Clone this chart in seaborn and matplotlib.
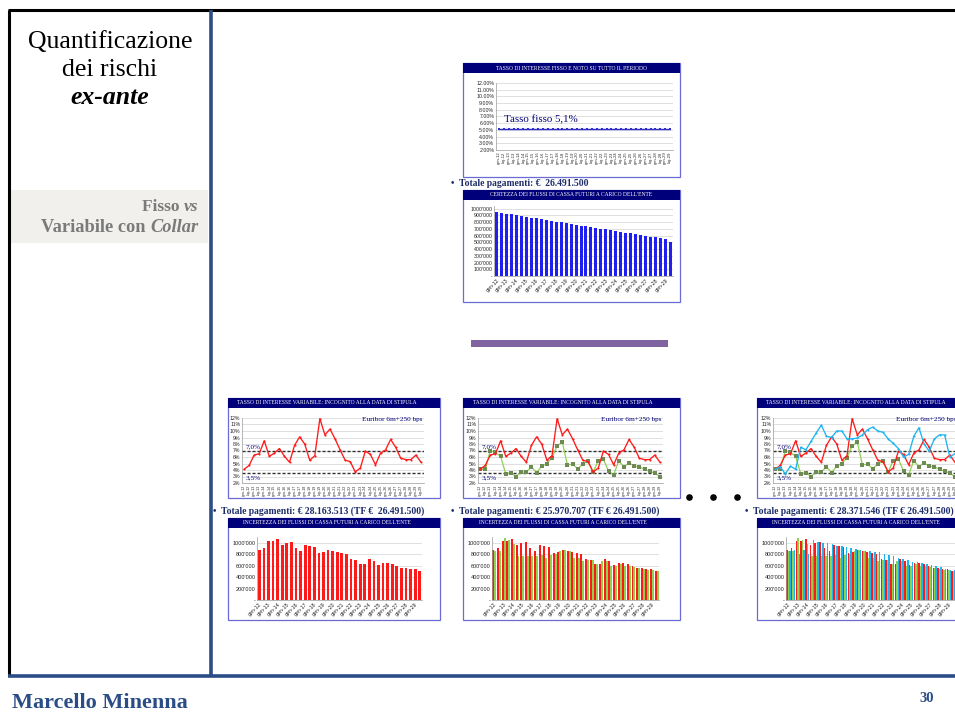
import numpy as np
import pandas as pd
import matplotlib
matplotlib.use("Agg")
import matplotlib.pyplot as plt
from matplotlib.patches import Rectangle
from matplotlib.ticker import FuncFormatter, MultipleLocator
import seaborn as sns

sns.set_theme(style="white")
plt.rcParams["font.family"] = ["Liberation Serif", "DejaVu Serif"]

# ---------------------------------------------------------------- data
periods = ["gen-12", "lug-12", "gen-13", "lug-13", "gen-14", "lug-14",
           "gen-15", "lug-15", "gen-16", "lug-16", "gen-17", "lug-17",
           "gen-18", "lug-18", "gen-19", "lug-19", "gen-20", "lug-20",
           "gen-21", "lug-21", "gen-22", "lug-22", "gen-23", "lug-23",
           "gen-24", "lug-24", "gen-25", "lug-25", "gen-26", "lug-26",
           "gen-27", "lug-27", "gen-28", "lug-28", "gen-29", "lug-29"]
year_labels = ["gen-12", "gen-13", "gen-14", "gen-15", "gen-16", "gen-17",
               "gen-18", "gen-19", "gen-20", "gen-21", "gen-22", "gen-23",
               "gen-24", "gen-25", "gen-26", "gen-27", "gen-28", "gen-29"]

# interest rates (%)
fixed_rate = [5.1, 5.1, 5.1, 5.1, 5.1, 5.1, 5.1, 5.1, 5.1, 5.1, 5.1, 5.1,
              5.1, 5.1, 5.1, 5.1, 5.1, 5.1, 5.1, 5.1, 5.1, 5.1, 5.1, 5.1,
              5.1, 5.1, 5.1, 5.1, 5.1, 5.1, 5.1, 5.1, 5.1, 5.1, 5.1, 5.1]
euribor_rate = [4.1, 4.7, 6.3, 6.5, 8.5, 6.1, 6.6, 7.3, 6.1, 5.2, 7.8, 9.1,
                8.0, 5.5, 6.2, 11.9, 9.4, 10.3, 8.8, 7.1, 5.5, 5.3, 3.7, 4.3,
                6.9, 6.4, 4.8, 6.6, 7.1, 8.7, 7.5, 5.8, 5.6, 5.6, 6.3, 5.2]
collar_rate = [4.1, 4.1, 7.0, 6.7, 6.1, 3.4, 3.6, 3.0, 3.7, 3.7, 4.5, 3.6,
               4.6, 5.0, 5.9, 7.7, 8.3, 4.8, 4.9, 4.2, 4.9, 5.4, 3.7, 5.4,
               5.7, 3.8, 3.3, 5.4, 4.5, 5.1, 4.6, 4.5, 4.1, 3.8, 3.5, 3.0]
stress_rate = [4.1, 4.5, 3.4, 4.6, 4.1, 7.5, 7.1, 8.4, 9.7, 10.9, 9.2, 9.0,
               10.0, 10.0, 8.8, 8.8, 8.9, 9.4, 10.2, 10.6, 10.0, 9.8, 8.8, 8.1,
               7.3, 6.0, 6.4, 9.2, 10.5, 8.0, 6.9, 8.8, 9.4, 9.4, 6.0, 6.5]
collar_cap = 7.0
collar_floor = 3.5

# semiannual payments (EUR)
fixed_payments = [948000, 937000, 926000, 914000, 903000, 891000, 879000, 868000,
                  856000, 844000, 833000, 821000, 809000, 797000, 786000, 774000,
                  762000, 750000, 739000, 727000, 715000, 703000, 692000, 680000,
                  668000, 656000, 645000, 633000, 621000, 609000, 597000, 586000,
                  574000, 562000, 550000, 506000]
euribor_payments = [870000, 912000, 1029000, 1035000, 1059000, 965000, 988000, 1006000,
                    912000, 847000, 953000, 935000, 923000, 812000, 841000, 870000,
                    853000, 835000, 812000, 800000, 718000, 694000, 629000, 635000,
                    712000, 676000, 618000, 653000, 641000, 624000, 600000, 565000,
                    553000, 541000, 535000, 512000]
collar_payments = [860000, 850000, 1080000, 1050000, 980000, 770000, 770000, 760000,
                   760000, 760000, 790000, 730000, 780000, 810000, 850000, 870000,
                   850000, 730000, 730000, 680000, 700000, 690000, 630000, 680000,
                   680000, 600000, 590000, 630000, 600000, 600000, 570000, 560000,
                   540000, 525000, 520000, 505000]
stress_payments = [860000, 870000, 800000, 880000, 810000, 1040000, 1010000, 1000000,
                   990000, 970000, 950000, 940000, 930000, 910000, 890000, 880000,
                   860000, 850000, 840000, 830000, 810000, 790000, 760000, 740000,
                   720000, 690000, 660000, 660000, 650000, 630000, 610000, 590000,
                   570000, 550000, 530000, 520000]

totals = ["Totale pagamenti: € 28.163.513 (TF €  26.491.500)",
          "Totale pagamenti: € 25.970.707 (TF € 26.491.500)",
          "Totale pagamenti: € 28.371.546 (TF € 26.491.500)"]

# ---------------------------------------------------------------- style
W, H = 955, 722
NAVY = "#00007A"
TEXT_NAVY = "#1C2C68"
LINE_BLUE = "#2B4D86"
FRAME = "#6B6BD6"
RED = "#FF1A1A"
GREEN = "#92D050"
GREEN_EDGE = "#6E8A55"
CYAN = "#1EB4F0"
SANS = "Liberation Sans"

fig = plt.figure(figsize=(W / 100, H / 100), dpi=100)
fig.patch.set_facecolor("white")


def rect(x0, y0, x1, y1):
    return [x0 / W, 1 - y1 / H, (x1 - x0) / W, (y1 - y0) / H]


bg = fig.add_axes([0, 0, 1, 1], zorder=0)
bg.set_xlim(0, W)
bg.set_ylim(H, 0)
bg.axis("off")

# slide frame
bg.plot([8, W], [10, 10], color="black", lw=2.2, solid_capstyle="butt")
bg.plot([9, 9], [10, 676], color="black", lw=2.2, solid_capstyle="butt")
bg.plot([211, 211], [10, 676], color=LINE_BLUE, lw=2.6, solid_capstyle="butt")
bg.plot([8, W], [676, 676], color=LINE_BLUE, lw=2.6, solid_capstyle="butt")

renderer = fig.canvas.get_renderer()


def rich(x, y, parts, ha="left", **kw):
    texts = [bg.text(0, y, s, va="center", **kw, **p) for s, p in parts]
    widths = [t.get_window_extent(renderer).width for t in texts]
    start = x - sum(widths) if ha == "right" else x - sum(widths) / 2 if ha == "center" else x
    for t, w in zip(texts, widths):
        t.set_x(start)
        start += w


# side heading
bg.text(110, 42, "Quantificazione", ha="center", va="center", fontsize=18.5, color="black")
bg.text(110, 70, "dei rischi", ha="center", va="center", fontsize=18.5, color="black")
bg.text(110, 97, "ex-ante", ha="center", va="center", fontsize=18.5, color="black",
        style="italic", weight="bold")
bg.add_patch(Rectangle((11, 190), 197, 53, facecolor="#F1F0EC", edgecolor="none"))
rich(198, 207, [("Fisso ", dict(weight="bold")), ("vs", dict(style="italic", weight="bold"))],
     ha="right", fontsize=12.5, color="#7A7A7A")
rich(198, 228, [("Variabile con ", dict(weight="bold")), ("Collar", dict(style="italic", weight="bold"))],
     ha="right", fontsize=13.2, color="#7A7A7A")

# footer
bg.text(12, 703, "Marcello Minenna", ha="left", va="center", fontsize=16,
        weight="bold", color=LINE_BLUE)
bg.text(927, 699, "30", ha="center", va="center", fontsize=10.5, weight="bold", color=LINE_BLUE)

# separator between the fixed and the variable scenarios
bg.add_patch(Rectangle((471, 340), 197, 7, facecolor="#8064A2", edgecolor="none"))

# ellipsis between scenarios
bg.scatter([689, 713, 737], [497, 497, 497], s=14, color="black", zorder=3)


def panel(x0, y0, x1, y1, title, tx):
    bg.add_patch(Rectangle((x0, y0), x1 - x0, y1 - y0, facecolor="white",
                           edgecolor=FRAME, lw=0.9))
    bg.add_patch(Rectangle((x0, y0), x1 - x0, 9.5, facecolor=NAVY, edgecolor="none"))
    bg.text(tx, y0 + 5, title, ha="center", va="center", fontsize=4.0, color="white")


def style_axes(ax):
    ax.set_facecolor("none")
    for s in ("top", "right"):
        ax.spines[s].set_visible(False)
    ax.spines["left"].set_color("#9A9A9A")
    ax.spines["bottom"].set_color("#9A9A9A")
    ax.spines["left"].set_linewidth(0.5)
    ax.spines["bottom"].set_linewidth(0.5)
    ax.grid(axis="y", color="#CFCFCF", lw=0.45)
    ax.set_axisbelow(True)
    ax.tick_params(axis="both", length=0, pad=1.2, labelsize=3.8)
    ax.set_xlabel("")
    ax.set_ylabel("")


def sans_labels(ax):
    for lab in ax.get_xticklabels() + ax.get_yticklabels():
        lab.set_family(SANS)


def money(v, _):
    if v <= 0:
        return "-"
    return f"{int(v // 1000)}'{int(v % 1000):03d}"


t = np.arange(len(periods))

# ---------------------------------------------------------------- fixed-rate panels
panel(463, 63, 680, 177, "TASSO DI INTERESSE FISSO E NOTO SU TUTTO IL PERIODO", 571)
ax = fig.add_axes(rect(496, 83, 673, 150))
df_fix = pd.DataFrame({"t": t, "tasso": fixed_rate})
sns.lineplot(data=df_fix, x="t", y="tasso", ax=ax, color="#2E2EC8", lw=1.0,
             marker="s", markersize=1.9, markeredgewidth=0)
ax.set_ylim(2, 12)
ax.set_xlim(-0.6, 35.6)
ax.yaxis.set_major_locator(MultipleLocator(1))
ax.yaxis.set_major_formatter(FuncFormatter(lambda v, _: f"{v:.2f}%"))
ax.set_xticks(t[::1])
ax.set_xticklabels(periods, rotation=90)
style_axes(ax)
ax.tick_params(axis="x", labelsize=3.0)
sans_labels(ax)
ax.text(1.0, 6.1, "Tasso fisso 5,1%", fontsize=7.8, color=NAVY, va="baseline")
bg.text(451, 183, "•  Totale pagamenti: €  26.491.500", fontsize=6.9, weight="bold",
        color=TEXT_NAVY, va="center")

panel(463, 190, 680, 302, "CERTEZZA DEI FLUSSI DI CASSA FUTURI A CARICO DELL'ENTE", 571)
ax = fig.add_axes(rect(494, 206, 673, 276))
df_fp = pd.DataFrame({"periodo": periods, "rata": fixed_payments})
sns.barplot(data=df_fp, x="periodo", y="rata", ax=ax, color="#1F1FF0",
            saturation=1, width=0.6, edgecolor="none", linewidth=0)
ax.set_ylim(0, 1.04e6)
ax.yaxis.set_major_locator(MultipleLocator(100000))
ax.yaxis.set_major_formatter(FuncFormatter(money))
ax.set_xticks(t[::2])
ax.set_xticklabels(year_labels, rotation=45, ha="right", rotation_mode="anchor")
style_axes(ax)
ax.tick_params(axis="x", labelsize=3.8)
sans_labels(ax)

# ---------------------------------------------------------------- variable-rate scenarios
scenarios = [
    dict(x0=228, x1=440, tx=327, lx=(242, 424), bx=(257, 422), tot_x=213,
         rates=[("Euribor", euribor_rate, RED)],
         pays=[("Euribor", euribor_payments, RED)]),
    dict(x0=463, x1=680, tx=563, lx=(478, 663), bx=(492, 659), tot_x=451,
         rates=[("Euribor", euribor_rate, RED), ("Collar", collar_rate, GREEN)],
         pays=[("Euribor", euribor_payments, RED), ("Collar", collar_payments, GREEN)]),
    dict(x0=757, x1=969, tx=856, lx=(773, 958), bx=(786, 956), tot_x=745,
         rates=[("Euribor", euribor_rate, RED), ("Collar", collar_rate, GREEN),
                ("Stress", stress_rate, CYAN)],
         pays=[("Euribor", euribor_payments, RED), ("Collar", collar_payments, GREEN),
               ("Stress", stress_payments, CYAN)]),
]

for sc, total in zip(scenarios, totals):
    panel(sc["x0"], 398, sc["x1"], 498,
          "TASSO DI INTERESSE VARIABILE: INCOGNITO ALLA DATA DI STIPULA", sc["tx"])
    ax = fig.add_axes(rect(sc["lx"][0], 418, sc["lx"][1], 483))
    ax.axhline(collar_cap, color="#303030", ls=(0, (2.2, 1.4)), lw=1.0, zorder=1)
    ax.axhline(collar_floor, color="#303030", ls=(0, (2.2, 1.4)), lw=1.0, zorder=1)
    order = {"Euribor": 3, "Collar": 2, "Stress": 4}
    for name, vals, col in sc["rates"]:
        d = pd.DataFrame({"t": t, "tasso": vals})
        if name == "Collar":
            sns.lineplot(data=d, x="t", y="tasso", ax=ax, color=col, lw=0.9,
                         marker="s", markersize=2.2, markerfacecolor=GREEN_EDGE,
                         markeredgewidth=0, zorder=order[name])
        else:
            sns.lineplot(data=d, x="t", y="tasso", ax=ax, color=col, lw=0.95,
                         marker="o", markersize=1.5, markeredgewidth=0,
                         zorder=order[name])
    ax.set_ylim(2, 12)
    ax.set_xlim(-0.4, 35.6)
    ax.yaxis.set_major_locator(MultipleLocator(1))
    ax.yaxis.set_major_formatter(FuncFormatter(lambda v, _: f"{v:.0f}%"))
    ax.set_xticks(t)
    ax.set_xticklabels(periods, rotation=90)
    style_axes(ax)
    ax.tick_params(axis="x", labelsize=2.6)
    sans_labels(ax)
    ax.text(0.02, collar_cap + 0.25, "7,0%", transform=ax.get_yaxis_transform(),
            fontsize=5.2, color=NAVY, va="bottom")
    ax.text(0.02, collar_floor - 0.25, "3,5%", transform=ax.get_yaxis_transform(),
            fontsize=5.2, color=NAVY, va="top")
    ax.text(0.99, 1.02, "Euribor 6m+250 bps", transform=ax.transAxes, fontsize=5.2,
            color=NAVY, ha="right", va="top")

    bg.text(sc["tot_x"], 511, "•  " + total, fontsize=6.9, weight="bold",
            color=TEXT_NAVY, va="center")

    panel(sc["x0"], 518, sc["x1"], 620,
          "INCERTEZZA DEI FLUSSI DI CASSA FUTURI A CARICO DELL'ENTE", sc["tx"])
    ax = fig.add_axes(rect(sc["bx"][0], 537, sc["bx"][1], 600))
    frames = [pd.DataFrame({"periodo": periods, "rata": v, "scenario": n})
              for n, v, _ in sc["pays"]]
    df_p = pd.concat(frames, ignore_index=True)
    pal = {n: c for n, _, c in sc["pays"]}
    width = {1: 0.6, 2: 0.85, 3: 0.95}[len(sc["pays"])]
    sns.barplot(data=df_p, x="periodo", y="rata", hue="scenario", palette=pal,
                ax=ax, saturation=1, width=width, legend=False,
                edgecolor="none", linewidth=0)
    ax.set_ylim(0, 1.1e6)
    ax.yaxis.set_major_locator(MultipleLocator(200000))
    ax.yaxis.set_major_formatter(FuncFormatter(money))
    ax.set_xticks(t[::2])
    ax.set_xticklabels(year_labels, rotation=45, ha="right", rotation_mode="anchor")
    style_axes(ax)
    ax.tick_params(axis="x", labelsize=3.8)
    ax.tick_params(axis="y", labelsize=4.0)
    sans_labels(ax)

fig.savefig("out.png", dpi=100)
